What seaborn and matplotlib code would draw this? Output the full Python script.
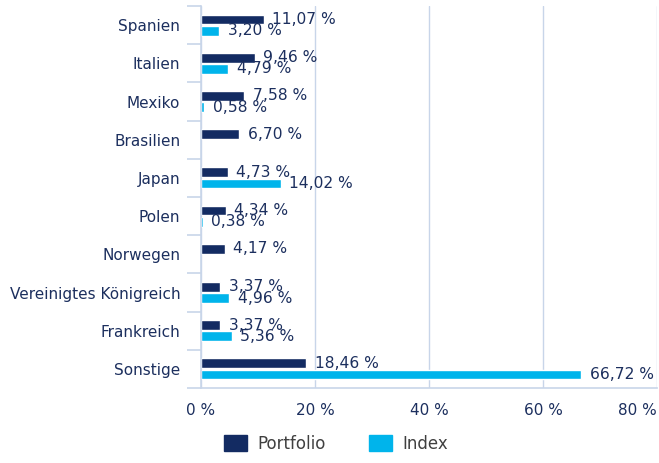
import numpy as np
import pandas as pd
import matplotlib
matplotlib.use('Agg')
import matplotlib.pyplot as plt
import seaborn as sns
from matplotlib.ticker import FixedLocator

laender = ['Spanien', 'Italien', 'Mexiko', 'Brasilien', 'Japan', 'Polen',
           'Norwegen', 'Vereinigtes Königreich', 'Frankreich', 'Sonstige']
portfolio = [11.07, 9.46, 7.58, 6.70, 4.73, 4.34, 4.17, 3.37, 3.37, 18.46]
index = [3.20, 4.79, 0.58, np.nan, 14.02, 0.38, np.nan, 4.96, 5.36, 66.72]
x_ticks = [0, 20, 40, 60, 80]

navy = '#132b62'
sky = '#00b4eb'
grid_col = '#c8d5e9'
text_col = '#1c2f5e'

df = pd.DataFrame({
    'Land': laender * 2,
    'Wert': portfolio + index,
    'Serie': ['Portfolio'] * len(laender) + ['Index'] * len(laender),
})

sns.set_style('white')
plt.rcParams['font.family'] = ['DejaVu Sans']

fig = plt.figure(figsize=(6.59, 4.63), dpi=100)
ax = fig.add_axes([0.305, 0.162, 0.692, 0.825])

sns.barplot(data=df, y='Land', x='Wert', hue='Serie', orient='h',
            order=laender, hue_order=['Portfolio', 'Index'],
            palette=[navy, sky], width=0.58, gap=0.12, ax=ax, legend=False,
            saturation=1, err_kws={'linewidth': 0})

def fmt(v):
    return f'{v:.2f} %'.replace('.', ',')

for cont in ax.containers:
    labels = [fmt(v) if not np.isnan(v) else '' for v in cont.datavalues]
    ax.bar_label(cont, labels=labels, padding=6, fontsize=11.2, color=text_col)

ax.set_xlim(0, 80)
ax.set_ylim(len(laender) - 0.5, -0.5)
ax.set_xticks(x_ticks)
ax.set_xticklabels([f'{t} %' for t in x_ticks])
ax.get_xticklabels()[-1].set_horizontalalignment('right')
ax.set_xlabel('')
ax.set_ylabel('')

ax.grid(axis='x', color=grid_col, linewidth=1)
ax.set_axisbelow(True)
for s in ['top', 'right']:
    ax.spines[s].set_visible(False)
for s in ['left', 'bottom']:
    ax.spines[s].set_color(grid_col)
    ax.spines[s].set_linewidth(1.2)

ax.yaxis.set_minor_locator(FixedLocator(np.arange(-0.5, len(laender), 1.0)))
ax.tick_params(axis='y', which='major', length=0, pad=15, labelsize=11,
               labelcolor=text_col)
ax.tick_params(axis='y', which='minor', length=10, width=1.2, color=grid_col,
               left=True)
ax.tick_params(axis='x', length=0, pad=11, labelsize=11, labelcolor=text_col)

handles = [plt.Rectangle((0, 0), 1, 1, color=navy),
           plt.Rectangle((0, 0), 1, 1, color=sky)]
fig.legend(handles, ['Portfolio', 'Index'], loc='lower center',
           bbox_to_anchor=(0.51, -0.01), ncol=2, frameon=False,
           fontsize=12, labelcolor='#404040', handlelength=1.4,
           handleheight=1.1, columnspacing=2.6, handletextpad=0.6)

fig.savefig('out.png', dpi=100)
